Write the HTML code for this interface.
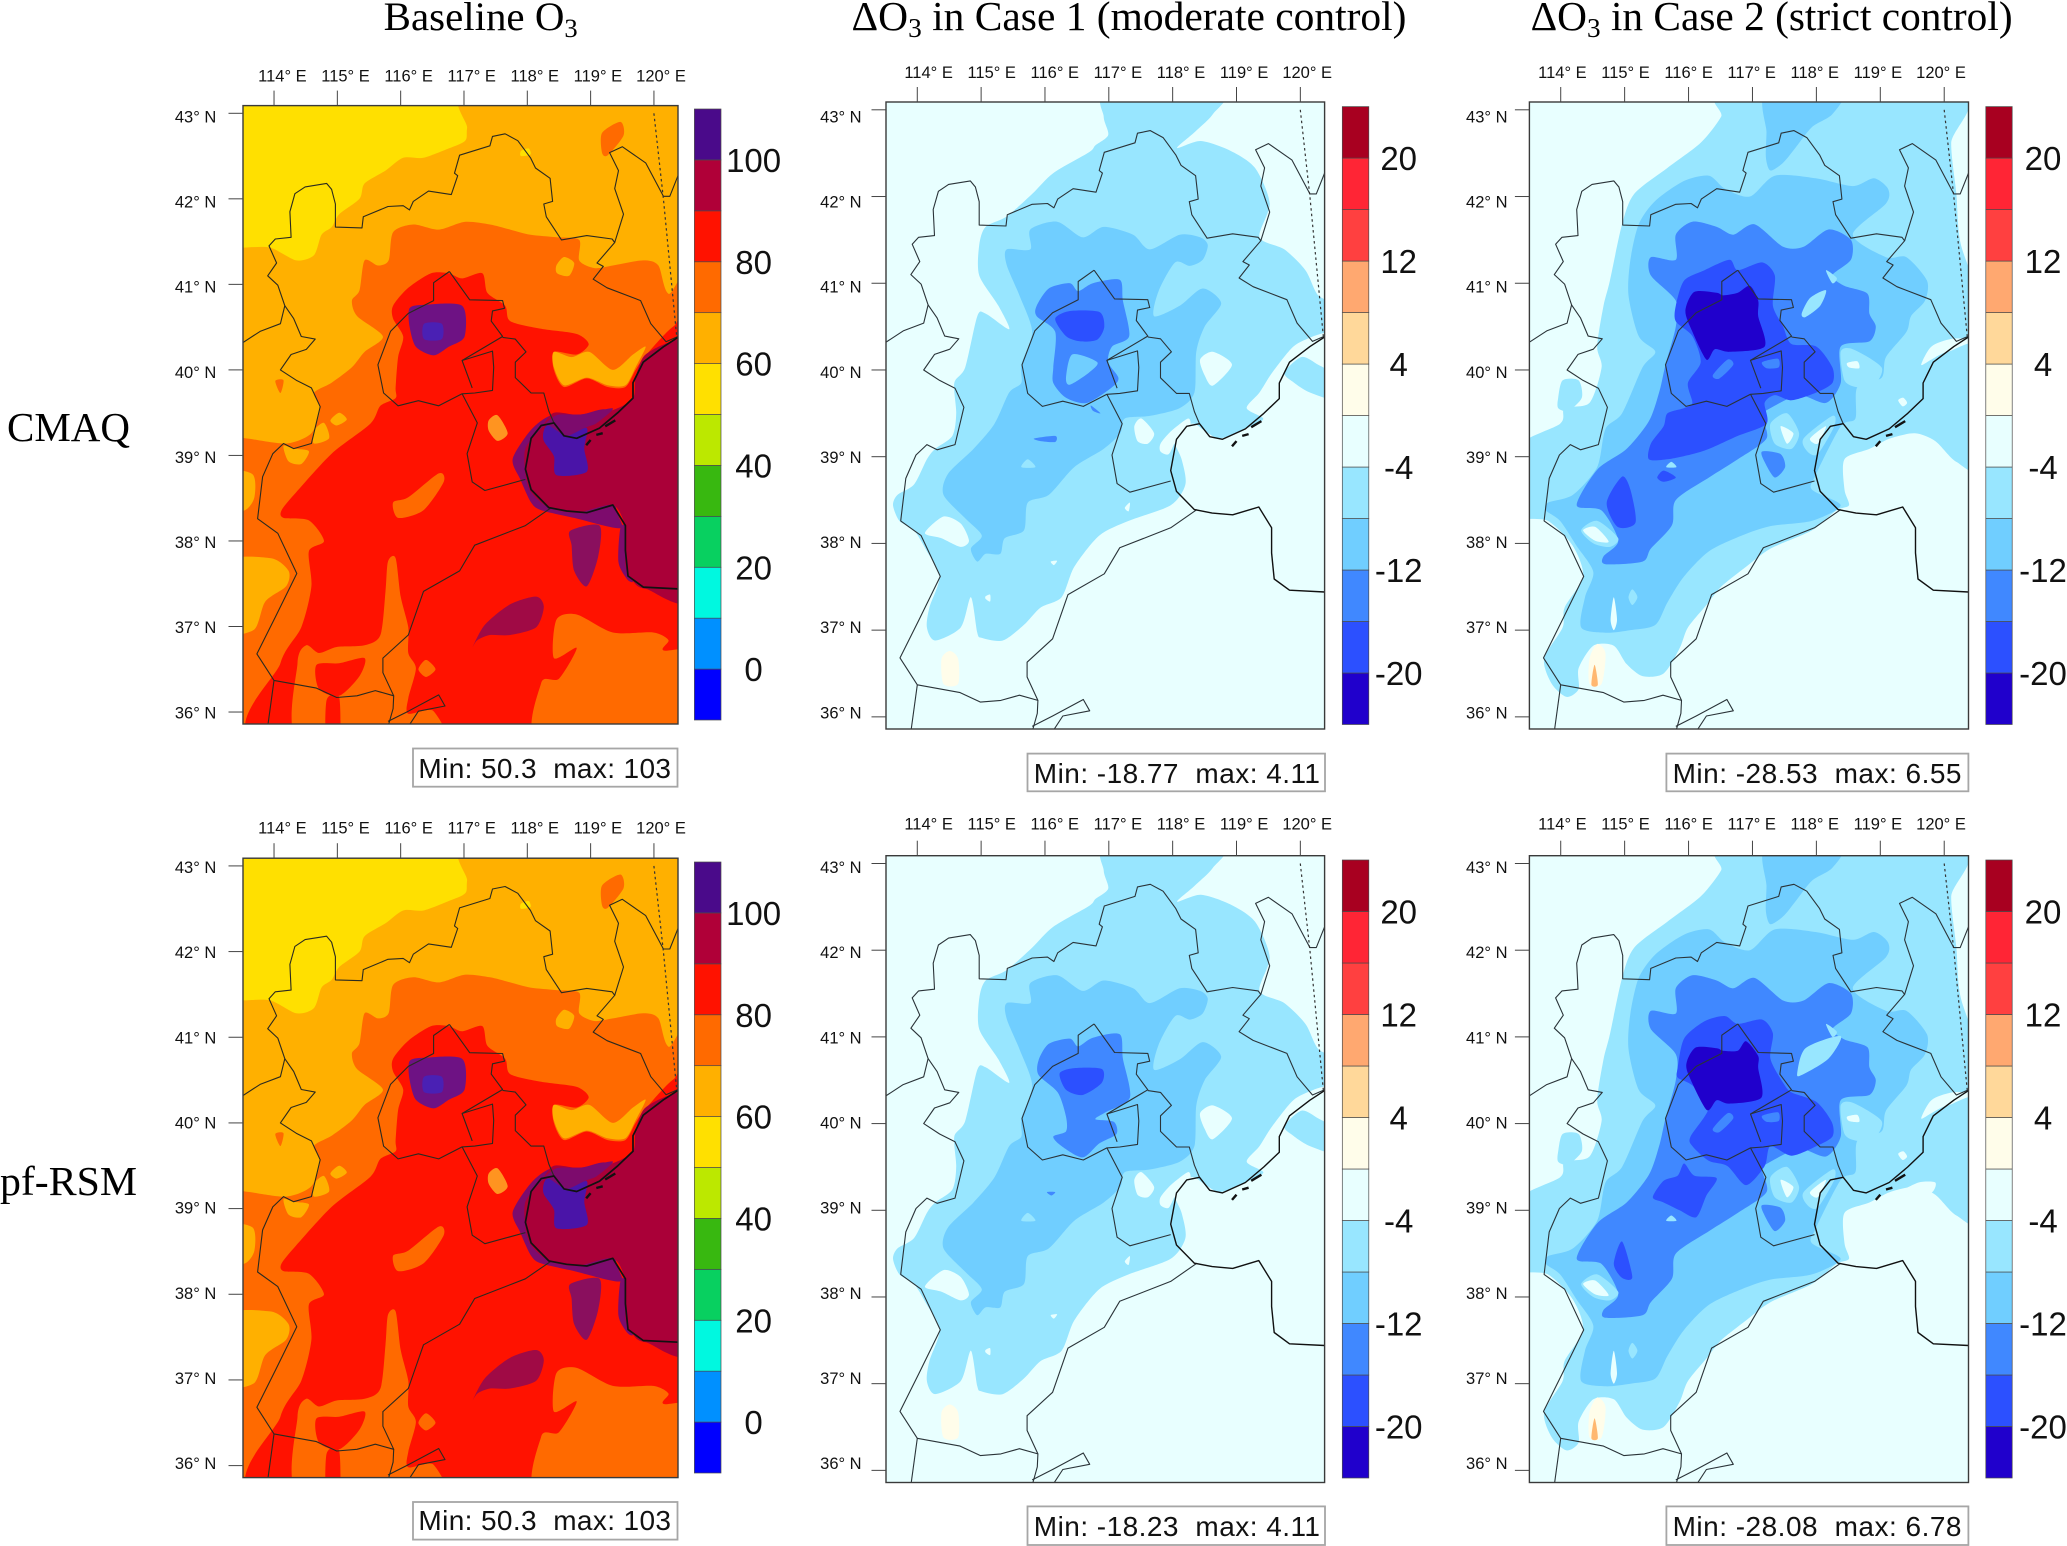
<!DOCTYPE html>
<html lang="en">
<head>
<meta charset="utf-8">
<title>Baseline O3 and control case contour maps</title>
<style>
html,body{margin:0;padding:0;background:#fff;}
svg{display:block;}
text{font-family:"Liberation Sans",sans-serif;fill:#111;}
.serif{font-family:"Liberation Serif","DejaVu Serif",serif;fill:#000;}
</style>
</head>
<body>
<svg id="figure" xmlns="http://www.w3.org/2000/svg" width="2067" height="1546" viewBox="0 0 2067 1546">
  <rect width="2067" height="1546" fill="#ffffff"/>
  <text class="serif" x="383.7" y="30" font-size="40" textLength="194" lengthAdjust="spacingAndGlyphs">Baseline O<tspan dy="7" font-size="26">3</tspan></text>
  <text class="serif" x="851.5" y="30" font-size="41" textLength="555" lengthAdjust="spacingAndGlyphs">ΔO<tspan dy="7" font-size="27">3</tspan><tspan dy="-7"> in Case 1 (moderate control)</tspan></text>
  <text class="serif" x="1530.6" y="30" font-size="41" textLength="482" lengthAdjust="spacingAndGlyphs">ΔO<tspan dy="7" font-size="27">3</tspan><tspan dy="-7"> in Case 2 (strict control)</tspan></text>
  <text class="serif" x="7" y="441" font-size="41" textLength="123" lengthAdjust="spacingAndGlyphs">CMAQ</text>
  <text class="serif" x="0" y="1195" font-size="41" textLength="137" lengthAdjust="spacingAndGlyphs">pf-RSM</text>
</svg>
<script>
/* ---------- axis values ---------- */
const lonTicks = [114,115,116,117,118,119,120];
const latTicks = [43,42,41,40,39,38,37,36];
const lonDomain = [113.51,120.38];
const latDomain = [35.86,43.09];

/* ---------- colour scale values (ascending) ---------- */
const baselineEdges = [-10,0,10,20,30,40,50,60,70,80,90,100,110];
const baselineColors = ['#0000ff','#0090ff','#00f8e0','#08d060','#38b810','#bce800','#ffe000','#ffb000','#ff6a00','#ff1200','#b00038','#4a0a8a'];
const baselineBarLabels = [0,20,40,60,80,100];
const caseEdges = [-24,-20,-16,-12,-8,-4,0,4,8,12,16,20,24];
const caseColors = ['#2000cc','#2c50ff','#4088ff','#70ceff','#98e6ff','#e8ffff','#fffdea','#ffd89a','#ffa870','#ff4040','#ff2535','#a80020'];
const caseBarLabels = [-20,-12,-4,4,12,20];

/* ---------- printed statistics ---------- */
const minValues = ['50.3','-18.77','-28.53','50.3','-18.23','-28.08'];
const maxValues = ['103','4.11','6.55','103','4.11','6.78'];

/* ---------- boundaries (lon,lat pairs) ---------- */
const borderNorth = [113.51,40.32,113.78,40.45,114.10,40.54,114.17,40.75,114.06,40.99,113.90,41.10,114.04,41.25,113.92,41.45,114.02,41.53,114.27,41.55,114.25,41.85,114.33,42.06,114.49,42.14,114.83,42.18,114.91,42.11,114.97,41.94,114.97,41.67,115.39,41.66,115.41,41.79,115.80,41.91,116.04,41.92,116.14,41.87,116.20,41.97,116.44,42.09,116.80,42.05,116.90,42.27,116.85,42.30,116.93,42.51,117.41,42.62,117.45,42.73,117.65,42.76,117.85,42.68,118.05,42.48,118.13,42.36,118.36,42.24,118.40,41.97,118.26,41.94,118.30,41.79,118.54,41.52,118.94,41.57,119.34,41.53,119.38,41.49,119.10,41.25,119.20,41.21,119.04,41.06,119.26,40.96,119.79,40.81,119.95,40.54,120.19,40.33,120.38,40.39];
const borderEastBranch = [119.38,41.49,119.52,41.82,119.38,42.12,119.44,42.33,119.30,42.54,119.50,42.61,119.87,42.42,120.15,42.03,120.25,42.03,120.38,42.27];
const borderWest = [114.17,40.75,114.31,40.60,114.43,40.39,114.65,40.36,114.51,40.24,114.27,40.18,114.10,40.00,114.35,39.88,114.59,39.79,114.73,39.57,114.59,39.14,114.31,39.08,114.15,39.14,113.98,39.02,113.82,38.75,113.74,38.26,114.06,38.09,114.36,37.62,114.02,37.11,113.73,36.68,114.00,36.37,114.67,36.28,114.99,36.17,115.31,36.19,115.60,36.25,115.89,36.19,115.72,36.46,115.72,36.63,116.12,36.90,116.36,37.41,116.93,37.65,117.17,37.95,117.97,38.18,118.38,38.39];
const borderSpurA = [114.00,36.37,113.90,35.83];
const borderSpurB = [115.89,36.19,115.88,36.04,115.80,35.83];
const borderSouth = [115.80,35.89,116.12,36.01,116.60,36.20,116.70,36.07,116.28,36.01,116.12,35.83];
const borderBeijing = [116.77,41.15,116.52,41.02,116.52,40.81,116.12,40.66,115.84,40.45,115.64,40.06,115.73,39.73,115.96,39.58,116.28,39.64,116.60,39.58,116.97,39.72,117.17,39.73,117.45,39.76,117.47,40.03,117.45,40.22,116.97,40.11,117.13,39.79];
const borderBeijingEast = [116.77,41.15,117.09,40.82,117.61,40.81,117.64,40.72,117.45,40.69,117.43,40.57,117.61,40.39,116.97,40.11];
const borderTianjinEast = [117.61,40.38,117.81,40.36,117.98,40.21,117.81,40.09,117.81,39.91,118.06,39.73,118.26,39.73,118.34,39.52,118.42,39.38];
const borderTianjinSouth = [116.97,39.72,117.21,39.38,117.05,39.02,117.13,38.69,117.33,38.59,117.97,38.72];
const coastline = [120.38,40.38,120.15,40.27,119.83,40.09,119.67,39.85,119.67,39.67,119.43,39.50,119.14,39.32,118.78,39.20,118.58,39.23,118.42,39.38,118.22,39.35,118.06,39.20,117.97,38.84,118.06,38.60,118.34,38.39,118.62,38.35,118.94,38.33,119.35,38.42,119.55,38.18,119.55,37.89,119.59,37.59,119.83,37.46,120.38,37.44];
const dottedBorder = [120.00,43.00,120.15,42.00,120.36,40.39];
const isletA = [118.93,39.12,119.00,39.18];
const isletB = [119.09,39.24,119.19,39.26];
const isletC = [119.23,39.34,119.39,39.41];

/* ---------- baseline O3 contours (lon,lat pairs) ---------- */
const baseOrange = [117.13,43.3,117.05,42.83,117.02,42.68,116.76,42.59,116.36,42.48,116.04,42.48,115.76,42.33,115.43,42.18,115.35,42.00,115.03,41.82,114.91,41.67,114.75,41.58,114.63,41.34,114.35,41.28,113.94,41.43,113.51,41.43,113.2,41.43,113.2,35.6,120.7,35.6,120.7,43.3];
const baseOrangeRed = [120.7,40.9,120.23,40.89,120.07,41.22,119.83,41.28,119.35,41.22,119.06,41.19,118.82,41.28,118.82,41.52,118.46,41.55,118.05,41.58,117.73,41.64,117.41,41.70,117.01,41.73,116.60,41.64,116.20,41.70,115.88,41.61,115.81,41.28,115.64,41.22,115.43,41.28,115.35,40.93,115.23,40.81,115.31,40.63,115.72,40.39,115.43,40.21,115.23,40.03,114.91,39.85,114.63,39.73,114.73,39.55,114.59,39.26,114.19,39.14,113.54,39.20,113.2,39.20,113.2,35.6,120.7,35.6];
const baseRed = [115.88,40.75,116.12,40.96,116.48,41.13,116.76,41.13,116.97,41.07,117.29,41.13,117.37,40.90,117.65,40.75,117.73,40.57,118.22,40.48,118.78,40.42,118.97,40.30,118.78,40.18,118.42,40.21,118.42,40.00,118.58,39.80,118.94,39.90,119.27,39.80,119.55,39.80,119.71,40.00,119.85,40.15,120.31,40.51,120.7,40.57,120.7,35.6,113.90,35.6,114.10,36.57,114.43,36.99,114.59,37.47,114.55,37.88,114.79,38.00,114.55,38.24,114.15,38.27,114.12,38.36,114.35,38.57,114.91,39.02,115.52,39.37,115.68,39.58,115.92,39.67,115.92,39.79,115.96,40.15,116.04,40.39,115.88,40.60];
const baseWestOrangeA = [113.2,37.74,113.94,37.80,114.23,37.65,114.19,37.47,113.86,37.29,113.68,36.96,113.2,36.96];
const baseWestOrangeB = [113.2,38.81,113.66,38.78,113.69,38.51,113.54,38.36,113.2,38.36];
const baseWestOrangeC = [114.15,39.11,114.31,39.08,114.55,39.05,114.43,38.90,114.23,38.93];
const baseWestOrangeD = [114.63,39.29,114.79,39.38,114.87,39.20,114.63,39.14];
const baseWestOrangeE = [114.89,39.41,115.03,39.50,115.15,39.42,114.99,39.35];
const baseNorthOrange = [118.46,41.22,118.58,41.32,118.74,41.25,118.66,41.10,118.47,41.13];
const baseCoastOrange = [118.42,40.21,118.70,40.15,118.98,40.21,119.35,40.00,119.67,40.18,119.87,40.27,119.71,40.03,119.55,39.82,119.27,39.82,118.94,39.91,118.58,39.82,118.42,40.03];
const baseSouthEast = [118.22,35.6,118.22,36.34,118.50,36.39,118.78,36.75,118.42,36.63,118.46,37.08,118.78,37.14,119.35,36.93,119.99,36.93,120.23,36.84,120.15,36.72,120.7,36.66,120.7,35.6];
const baseSpire = [114.43,35.6,114.37,36.57,114.51,36.78,114.71,36.69,114.99,36.76,115.43,36.78,115.68,36.90,115.76,37.41,115.80,37.76,115.92,37.80,116.00,37.35,116.12,36.99,116.12,36.69,116.24,36.51,116.12,36.16,116.12,35.98,116.52,36.01,116.60,35.6];
const baseRedPatchA = [114.67,36.55,115.03,36.57,115.43,36.63,115.35,36.42,115.03,36.19,114.71,36.27];
const baseRedPatchB = [114.83,36.14,115.03,36.17,115.03,35.6,114.83,35.6];
const baseDiamond = [116.28,36.50,116.40,36.61,116.55,36.50,116.40,36.41];
const baseStreak = [115.88,38.45,116.12,38.51,116.60,38.79,116.68,38.69,116.36,38.36,115.96,38.27];
const baseTianjinOrange = [117.39,39.41,117.53,39.47,117.69,39.26,117.53,39.17,117.39,39.29];
const baseTopBlob = [119.18,42.77,119.47,42.90,119.52,42.74,119.27,42.51,119.18,42.54];
const baseWestDiamond = [114.02,39.87,114.15,39.88,114.10,39.73];
const baseYellowSpot = [117.90,42.56,118.02,42.59,118.05,42.52,117.90,42.50];
const baseHalo = [117.77,38.96,118.06,39.30,118.38,39.47,118.86,39.48,119.25,39.53,119.30,39.20,119.40,38.40,119.47,38.15,118.74,38.27,118.22,38.36,118.06,38.45,117.89,38.72];
const baseHaloStrip = [119.47,38.15,119.58,38.15,119.58,37.71,119.67,37.53,119.58,37.55,119.44,37.75];
const baseSea = [120.7,40.42,120.38,40.36,120.07,40.27,119.83,40.15,119.71,39.91,119.67,39.67,119.35,39.53,118.86,39.47,118.42,39.50,118.22,39.32,117.97,39.08,117.97,38.78,118.06,38.57,118.34,38.39,118.78,38.33,119.35,38.42,119.55,38.15,119.55,37.71,119.67,37.53,119.87,37.44,120.7,37.44];
const baseSeaBand = [118.22,39.32,118.46,39.47,118.86,39.48,119.35,39.55,119.10,39.38,118.94,39.33,118.62,39.21,118.34,39.35];
const baseSeaCore = [118.26,39.29,118.34,39.35,118.62,39.23,118.94,39.32,118.90,39.08,118.94,38.81,118.46,38.77,118.42,38.99,118.26,39.17];
const baseEastIsland = [118.68,38.12,119.14,38.18,119.12,37.82,118.94,37.47,118.74,37.65,118.70,37.95];
const baseSouthBlob = [117.13,36.75,117.33,37.02,117.73,37.26,118.14,37.35,118.26,37.23,118.14,36.99,117.73,36.90,117.41,36.90,117.21,36.84];
const baseBeijingRing = [116.14,40.72,116.36,40.76,116.97,40.75,117.01,40.39,116.76,40.27,116.52,40.17,116.24,40.27,116.14,40.51];
const baseBeijingCore = [116.37,40.54,116.65,40.54,116.65,40.36,116.37,40.36];

/* ---------- case 1 contours ---------- */
const c1Light = [116.99,43.2,118.76,43.2,118.63,42.95,118.34,42.74,118.07,42.56,118.44,42.64,118.90,42.53,119.29,42.33,119.52,41.92,119.36,41.53,119.75,41.39,120.08,41.15,120.28,40.86,120.6,40.74,120.6,40.50,120.21,40.39,119.89,40.27,119.56,39.97,119.36,39.74,119.16,39.56,119.42,39.44,119.23,39.35,119.03,39.29,118.73,39.21,118.50,39.30,118.34,39.38,118.17,39.35,118.01,39.21,118.14,38.97,118.20,38.68,117.97,38.44,117.31,38.26,116.85,38.09,116.46,37.73,116.26,37.38,115.93,37.26,115.67,37.06,115.34,36.88,115.01,36.91,114.94,36.97,114.84,37.38,114.68,37.03,114.28,36.88,114.15,37.03,114.19,37.26,114.35,37.62,114.15,37.91,113.95,38.15,113.72,38.26,113.62,38.44,113.69,38.56,113.95,38.68,114.15,38.97,114.28,39.09,114.55,39.24,114.61,39.50,114.58,39.85,114.75,40.03,114.94,40.62,115.07,40.65,115.44,40.47,115.27,40.74,114.97,41.09,114.97,41.44,115.07,41.65,115.40,41.77,115.80,42.03,116.13,42.27,116.69,42.51,116.79,42.59,116.99,42.71,116.92,42.92];
const c1SeaBlob = [119.75,39.97,120.02,40.15,120.28,40.06,120.6,39.91,120.6,39.65,120.15,39.74,119.89,39.86];
const c1GapA = [118.43,40.12,118.63,40.21,118.93,40.06,118.63,39.82,118.50,39.94];
const c1GapB = [117.40,39.35,117.51,39.44,117.71,39.27,117.61,39.15,117.45,39.18];
const c1GapC = [117.81,39.15,117.97,39.29,118.24,39.44,118.27,39.35,118.07,39.21,117.94,39.03,117.81,39.06];
const c1GapD = [114.12,38.12,114.41,38.31,114.68,38.23,114.81,38.03,114.68,37.96,114.38,38.06];
const c1GapE = [117.25,38.41,117.33,38.47,117.31,38.37];
const c1GapF = [116.09,37.79,116.19,37.80,116.14,37.75];
const c1GapG = [115.07,37.39,115.14,37.41,115.14,37.33,115.07,37.36];
const c1Cream = [114.38,36.67,114.51,36.76,114.64,36.67,114.64,36.38,114.41,36.38];
const c1Mid = [115.77,41.62,116.19,41.71,116.59,41.53,116.92,41.65,117.38,41.56,117.64,41.39,118.11,41.56,118.43,41.53,118.55,41.44,118.47,41.27,118.27,41.20,118.04,41.24,117.78,40.91,117.71,40.62,118.11,40.74,118.47,40.94,118.76,40.77,118.50,40.50,118.37,40.21,118.34,39.74,118.11,39.56,117.64,39.47,117.25,39.44,117.18,39.27,116.92,39.09,116.46,38.88,116.06,38.56,115.73,38.47,115.67,38.15,115.37,38.06,115.30,37.88,115.07,37.88,114.94,37.79,114.84,37.94,115.01,38.09,114.75,38.29,114.41,38.56,114.48,38.80,114.88,39.09,115.21,39.38,115.44,39.74,115.63,39.85,115.63,40.06,115.80,40.44,115.60,40.86,115.40,41.21,115.40,41.39,115.77,41.39];
const c1MidGap = [115.63,38.88,115.73,38.97,115.85,38.88];
const c1Strong = [115.87,40.74,116.06,40.94,116.39,41.00,116.52,40.91,116.75,41.00,117.17,41.04,117.22,40.80,117.32,40.39,117.05,40.27,116.99,40.09,117.15,39.91,117.05,39.80,116.66,39.62,116.33,39.68,116.13,39.85,116.13,40.03,116.16,40.44,115.87,40.62];
const c1Hole = [116.33,39.91,116.43,40.18,116.82,40.09,116.69,39.97,116.39,39.83];
const c1Deep = [116.16,40.59,116.39,40.68,116.85,40.67,116.93,40.50,116.82,40.35,116.56,40.33,116.33,40.39];
const c1SpotA = [115.83,39.21,116.16,39.24,116.16,39.17,115.93,39.18];
const c1SpotB = [116.72,39.59,116.87,39.50,116.75,39.53];
const c1RsmStrong = [115.90,40.73,116.06,40.92,116.39,40.98,116.52,40.89,116.75,40.99,117.17,41.03,117.22,40.75,117.33,40.30,116.95,40.13,116.79,40.05,117.08,40.02,117.12,39.88,116.85,39.77,116.59,39.61,116.26,39.74,116.13,39.85,116.33,39.91,116.33,40.08,116.20,40.36,115.90,40.56];
const c1RsmDeep = [116.23,40.58,116.46,40.64,116.89,40.63,116.89,40.47,116.59,40.33,116.33,40.39];
const c1RsmSpot = [116.03,39.21,116.16,39.21,116.10,39.17];

/* ---------- case 2 contours ---------- */
const c2Light = [116.64,43.2,120.22,43.2,120.11,42.62,120.19,42.03,120.26,41.45,120.6,40.74,120.6,40.39,120.12,40.36,119.80,40.27,119.64,40.06,119.80,40.12,120.06,40.21,120.6,40.24,120.6,38.88,120.19,38.94,119.86,39.18,119.54,39.27,119.15,39.21,118.83,39.09,118.44,38.97,118.44,38.62,118.51,38.44,118.31,38.38,117.93,38.15,117.28,37.94,116.90,37.73,116.51,37.50,116.28,37.29,115.99,37.03,115.86,36.79,115.61,36.50,115.28,36.47,115.03,36.61,114.83,36.82,114.51,36.82,114.28,36.56,114.28,36.32,114.09,36.23,113.86,36.38,113.74,36.67,114.03,37.03,114.06,37.26,114.35,37.62,114.19,37.97,113.80,38.26,113.3,38.35,113.3,39.09,113.99,39.38,114.06,39.56,114.45,39.62,114.64,40.03,114.57,40.27,114.67,40.74,114.77,41.03,114.96,41.68,115.15,42.03,115.67,42.33,116.19,42.62,116.51,42.92];
const c2Cream = [114.45,36.67,114.57,36.84,114.70,36.73,114.64,36.38,114.45,36.38];
const c2Droplet = [114.48,36.37,114.53,36.60,114.58,36.37];
const c2TopBlob = [117.22,43.2,118.38,43.2,118.25,42.95,117.93,42.80,117.67,42.56,117.48,42.39,117.28,42.30,117.21,42.45,117.22,42.74];
const c2Mid = [115.22,41.68,115.48,41.95,115.93,42.18,116.32,42.24,116.57,42.09,116.96,42.00,117.35,42.24,117.99,42.21,118.57,42.12,118.90,42.21,119.12,42.09,119.09,41.92,118.57,41.56,119.09,41.30,119.41,41.30,119.73,41.03,119.70,40.80,119.48,40.62,119.41,40.44,119.09,40.15,119.02,39.91,118.64,39.80,118.61,39.44,118.38,39.35,117.99,38.79,117.93,38.62,118.38,38.44,117.93,38.26,117.28,38.20,116.83,38.09,116.32,37.91,115.93,37.62,115.67,37.32,115.48,37.06,115.09,37.00,114.70,36.97,114.32,37.03,114.38,37.38,114.51,37.67,114.25,37.97,113.99,38.26,113.77,38.38,113.80,38.47,114.19,38.56,114.57,38.88,114.70,39.32,114.96,39.50,115.28,40.03,115.48,40.21,115.22,40.39,115.06,40.86,115.09,41.27];
const c2WestBlob = [113.96,39.68,114.03,39.88,114.28,39.88,114.33,39.68,114.12,39.53,113.96,39.56];
const c2Strong = [115.80,41.56,116.06,41.71,116.44,41.65,116.70,41.56,117.03,41.68,117.48,41.42,117.80,41.42,118.19,41.62,118.54,41.50,118.54,41.27,118.25,41.09,118.44,40.97,118.80,40.88,118.83,40.65,118.93,40.50,118.83,40.33,118.38,40.27,118.38,39.85,118.15,39.62,117.73,39.71,117.28,39.56,117.15,39.47,117.22,39.21,116.77,38.97,116.32,38.76,115.80,38.50,115.74,38.21,115.41,37.94,115.28,37.79,114.70,37.76,114.67,37.85,114.90,38.03,114.64,38.38,114.25,38.44,114.57,38.85,115.03,39.09,115.38,39.41,115.54,39.74,115.64,40.06,115.80,40.50,115.80,40.80,115.41,41.09,115.41,41.30,115.80,41.27];
const c2Finger = [117.77,40.65,117.90,40.83,118.15,40.92,118.06,40.74,117.83,40.61];
const c2FingerTip = [118.15,41.15,118.32,41.06,118.25,41.00];
const c2RsmFinger = [117.70,40.58,117.83,40.87,118.38,41.01,118.19,40.75,117.77,40.56];
const c2TianjinSpot = [117.15,39.06,117.44,39.03,117.51,38.88,117.35,38.76,117.19,38.94];
const c2Deep = [115.80,40.74,115.93,41.03,116.25,41.15,116.64,41.27,116.77,41.15,117.15,41.24,117.35,41.09,117.32,40.74,117.48,40.50,117.61,40.30,118.00,40.27,118.25,40.03,118.25,39.85,118.00,39.74,117.61,39.65,117.35,39.71,117.19,39.62,117.22,39.38,116.77,39.24,116.32,39.09,116.06,39.03,115.67,38.97,115.38,38.97,115.41,39.15,115.61,39.35,115.67,39.50,115.93,39.56,116.06,39.62,115.99,39.85,116.19,40.09,116.06,40.39,115.80,40.56];
const c2HoleA = [116.38,39.94,116.61,40.12,116.70,40.06,116.48,39.90];
const c2HoleB = [117.15,40.09,117.40,40.13,117.41,40.03,117.22,40.02];
const c2WestDeep = [114.72,38.47,114.96,38.77,115.09,38.62,115.17,38.24,114.89,38.19];
const c2SmallDeep = [115.51,38.76,115.61,38.84,115.80,38.76,115.61,38.71];
const c2SmallGap = [115.65,38.88,115.73,38.94,115.81,38.88];
const c2Core = [115.95,40.68,116.09,40.90,116.44,40.89,116.54,40.86,116.77,40.89,116.96,40.97,117.09,40.80,117.09,40.62,117.19,40.27,116.64,40.21,116.41,40.24,116.28,40.12,116.06,40.44];
const c2IslandA = [117.28,39.38,117.54,39.50,117.73,39.27,117.61,39.09,117.35,39.15];
const c2IslandAWhite = [117.44,39.35,117.64,39.27,117.54,39.15];
const c2IslandB = [117.80,39.21,118.25,39.47,118.28,39.35,118.02,39.03,117.86,39.06];
const c2IslandBWhite = [117.90,39.21,118.15,39.35,118.02,39.15];
const c2IslandC = [118.38,40.21,118.57,40.24,119.02,40.03,118.90,39.82,118.64,39.80,118.44,39.88];
const c2IslandCWhite = [118.48,40.08,118.64,40.10,118.67,40.02,118.51,40.03];
const c2IslandD = [114.32,38.15,114.57,38.26,114.90,38.06,114.77,37.96,114.51,38.00];
const c2IslandDWhite = [114.35,38.15,114.54,38.19,114.75,38.02,114.54,38.03];
const c2IslandE = [115.06,37.38,115.12,37.47,115.20,37.38,115.12,37.29];
const c2IslandF = [114.78,37.12,114.83,37.38,114.88,37.12,114.83,37.00];
const c2IslandG = [119.28,39.65,119.36,39.68,119.42,39.62,119.35,39.58];
const c2RsmDeep = [115.83,40.64,115.93,40.98,116.25,41.18,116.57,41.24,116.77,41.15,117.15,41.20,117.32,41.04,117.28,40.75,117.48,40.47,117.61,40.36,118.00,40.25,118.24,40.02,118.25,39.85,118.00,39.74,117.61,39.63,117.28,39.74,117.19,39.51,116.90,39.29,116.61,39.51,116.32,39.57,116.06,39.74,116.03,39.85,116.32,40.19,116.06,40.44,115.83,40.53];
const c2RsmSouth = [115.44,39.15,115.61,39.34,115.83,39.40,115.93,39.54,116.09,39.40,116.44,39.37,116.28,39.17,116.12,38.92,115.86,39.00,115.61,39.09];
const c2RsmWest = [114.83,38.38,114.96,38.64,115.12,38.23,114.96,38.22];
const c2RsmCore = [115.98,40.73,116.12,40.88,116.44,40.87,116.54,40.84,116.77,40.84,116.90,40.95,117.09,40.78,117.09,40.64,117.14,40.30,116.64,40.23,116.44,40.27,116.28,40.16,115.99,40.58];
const c2RsmSeaGap = [119.30,39.20,119.60,39.32,119.86,39.32,119.80,39.20,119.47,39.13];

/* ---------- draw order: [value, ring, optional tint, name] ---------- */
const baselineLayers = [
 [65,baseOrange,null,'contour-60-70'],[75,baseOrangeRed,null,'contour-70-80'],
 [65,baseWestOrangeA,null,'patch-60-70'],[65,baseWestOrangeB,null,'patch-60-70'],[65,baseWestOrangeC,null,'patch-60-70'],[65,baseWestOrangeD,null,'patch-60-70'],[65,baseWestOrangeE,null,'patch-60-70'],[65,baseNorthOrange,null,'patch-60-70'],
 [75,baseTopBlob,null,'patch-70-80'],[75,baseWestDiamond,null,'patch-70-80'],[55,baseYellowSpot,null,'patch-50-60'],
 [85,baseRed,null,'contour-80-90'],[65,baseCoastOrange,null,'patch-60-70'],[75,baseSouthEast,null,'patch-70-80'],[75,baseSpire,null,'patch-70-80'],
 [85,baseRedPatchA,null,'patch-80-90'],[85,baseRedPatchB,null,'patch-80-90'],[75,baseDiamond,null,'patch-70-80'],[75,baseStreak,null,'patch-70-80'],[65,baseTianjinOrange,'#ff9420','patch-60-70'],
 [95,baseHalo,'#7d0b6d','sea-halo'],[95,baseHaloStrip,'#7d0b6d','sea-halo'],[95,baseSea,'#aa0038','contour-90-100'],[95,baseSeaBand,'#7d0b6d','sea-band'],[105,baseSeaCore,'#4a14a8','sea-core'],
 [95,baseEastIsland,'#8a0f5e','patch-90-100'],[95,baseSouthBlob,'#a00a45','patch-90-100'],[95,baseBeijingRing,'#6e1284','beijing-ring'],[105,baseBeijingCore,'#4a20b4','beijing-core']
];
const case1Top = [
 [-6,c1Light,null,'contour-minus-4'],[-6,c1SeaBlob,null,'patch-minus-4'],[-2,c1GapA,null,'gap'],[-2,c1GapB,null,'gap'],[-2,c1GapC,null,'gap'],[-2,c1GapD,null,'gap'],[-2,c1GapE,null,'gap'],[-2,c1GapF,null,'gap'],[-2,c1GapG,null,'gap'],[2,c1Cream,null,'positive-patch'],
 [-10,c1Mid,null,'contour-minus-8'],[-6,c1MidGap,null,'gap'],[-14,c1Strong,null,'contour-minus-12'],[-10,c1Hole,null,'hole'],[-18,c1Deep,null,'contour-minus-16'],[-14,c1SpotA,null,'spot'],[-14,c1SpotB,null,'spot']
];
const case1Bottom = [
 [-6,c1Light,null,'contour-minus-4'],[-6,c1SeaBlob,null,'patch-minus-4'],[-2,c1GapA,null,'gap'],[-2,c1GapB,null,'gap'],[-2,c1GapC,null,'gap'],[-2,c1GapD,null,'gap'],[-2,c1GapE,null,'gap'],[-2,c1GapF,null,'gap'],[-2,c1GapG,null,'gap'],[2,c1Cream,null,'positive-patch'],
 [-10,c1Mid,null,'contour-minus-8'],[-6,c1MidGap,null,'gap'],[-14,c1RsmStrong,null,'contour-minus-12'],[-18,c1RsmDeep,null,'contour-minus-16'],[-14,c1RsmSpot,null,'spot']
];
const case2Shared = [
 [-6,c2Light,null,'contour-minus-4'],[2,c2Cream,null,'positive-patch'],[6,c2Droplet,'#ffb870','positive-core'],
 [-10,c2TopBlob,null,'patch-minus-8'],[-10,c2Mid,null,'contour-minus-8'],[-6,c2WestBlob,null,'patch-minus-4'],
 [-14,c2Strong,null,'contour-minus-12'],[-6,c2FingerTip,null,'gap'],[-14,c2TianjinSpot,null,'spot']
];
const case2Islands = [
 [-6,c2IslandA,null,'gap'],[-2,c2IslandAWhite,null,'gap-core'],[-6,c2IslandB,null,'gap'],[-2,c2IslandBWhite,null,'gap-core'],[-6,c2IslandC,null,'gap'],[-2,c2IslandCWhite,null,'gap-core'],[-6,c2IslandD,null,'gap'],[-2,c2IslandDWhite,null,'gap-core'],[-6,c2IslandE,null,'gap'],[-2,c2IslandF,null,'gap-core'],[-2,c2IslandG,null,'gap-core']
];
const case2Top = case2Shared.concat([
 [-6,c2Finger,null,'gap'],[-18,c2Deep,null,'contour-minus-16'],[-14,c2HoleA,null,'hole'],[-14,c2HoleB,null,'hole'],[-18,c2WestDeep,null,'spot'],[-18,c2SmallDeep,null,'spot'],[-6,c2SmallGap,null,'gap'],[-22,c2Core,null,'contour-minus-20']
],case2Islands);
const case2Bottom = case2Shared.concat([
 [-6,c2RsmFinger,null,'gap'],[-18,c2RsmDeep,null,'contour-minus-16'],[-18,c2RsmSouth,null,'patch-minus-16'],[-14,c2HoleA,null,'hole'],[-14,c2HoleB,null,'hole'],[-18,c2RsmWest,null,'spot'],[-6,c2SmallGap,null,'gap'],[-22,c2RsmCore,null,'contour-minus-20'],[-2,c2RsmSeaGap,null,'gap']
],case2Islands);

/* ---------- panel layout ---------- */
const panels = [
 {id:'baseline-cmaq',L:243,R:678,T:105.6,B:724,bx:694.4,bw:26.6,bt:109,bb:720,lx:282.4,ly:75.5,yr:216.3,y0:116.3,blx:753.6,box:[413,748.5,264.5,38.2],tx:[418.4,671],base:778,layers:baselineLayers,bg:55,kind:0,stat:0},
 {id:'case-1-cmaq',L:886,R:1324.6,T:102,B:729,bx:1342.3,bw:26.5,bt:106.6,bb:724.5,lx:928.6,ly:72,yr:861.6,y0:116.3,blx:1398.7,box:[1027.5,753.6,297.5,37.7],tx:[1033.8,1320],base:783,layers:case1Top,bg:-2,kind:1,stat:1},
 {id:'case-2-cmaq',L:1529.4,R:1968.5,T:102,B:729,bx:1985.8,bw:26.4,bt:106.6,bb:724.5,lx:1562.4,ly:72,yr:1507.5,y0:116.3,blx:2043,box:[1666.4,753.6,302,37.7],tx:[1672.6,1961.5],base:783,layers:case2Top,bg:-2,kind:1,stat:2},
 {id:'baseline-pf-rsm',L:243,R:678,T:858.2,B:1477.6,bx:694.4,bw:26.6,bt:862,bb:1473,lx:282.4,ly:827.4,yr:216.3,y0:867,blx:753.6,box:[413,1502,264.5,37.6],tx:[418.4,671],base:1530,layers:baselineLayers,bg:55,kind:0,stat:3},
 {id:'case-1-pf-rsm',L:886,R:1324.6,T:855.7,B:1482.5,bx:1342.3,bw:26.5,bt:860,bb:1478,lx:928.6,ly:823.5,yr:861.6,y0:867,blx:1398.7,box:[1027.5,1506.4,297.5,38.6],tx:[1033.8,1320],base:1536,layers:case1Bottom,bg:-2,kind:1,stat:4},
 {id:'case-2-pf-rsm',L:1529.4,R:1968.5,T:855.7,B:1482.5,bx:1985.8,bw:26.4,bt:860,bb:1478,lx:1562.4,ly:823.5,yr:1507.5,y0:867,blx:2043,box:[1666.4,1506.4,302,38.6],tx:[1672.6,1961.5],base:1536,layers:case2Bottom,bg:-2,kind:1,stat:5}
];

const NS = 'http://www.w3.org/2000/svg';
const root = document.getElementById('figure');

function make(tag, parent, props){
  const el = document.createElementNS(NS, tag);
  for (const k in props) el.setAttribute(k, props[k]);
  parent.appendChild(el);
  return el;
}
function smoothClosed(pts){
  const n = pts.length, k = 0.8;
  let d = 'M' + pts[0][0].toFixed(1) + ' ' + pts[0][1].toFixed(1);
  for (let i = 0; i < n; i++){
    const p0 = pts[(i-1+n)%n], p1 = pts[i], p2 = pts[(i+1)%n], p3 = pts[(i+2)%n];
    const c1x = p1[0] + (p2[0]-p0[0])/6*k, c1y = p1[1] + (p2[1]-p0[1])/6*k;
    const c2x = p2[0] - (p3[0]-p1[0])/6*k, c2y = p2[1] - (p3[1]-p1[1])/6*k;
    d += 'C' + c1x.toFixed(1) + ' ' + c1y.toFixed(1) + ' ' + c2x.toFixed(1) + ' ' + c2y.toFixed(1) + ' ' + p2[0].toFixed(1) + ' ' + p2[1].toFixed(1);
  }
  return d + 'Z';
}
function bandColor(edges, colors, v){
  for (let i = 0; i < colors.length; i++) if (v >= edges[i] && v < edges[i+1]) return colors[i];
  return colors[colors.length-1];
}

panels.forEach(function(p, idx){
  const edges = p.kind === 0 ? baselineEdges : caseEdges;
  const colors = p.kind === 0 ? baselineColors : caseColors;
  const barLabels = p.kind === 0 ? baselineBarLabels : caseBarLabels;
  const xScale = function(lon){ return p.L + (lon - lonDomain[0]) / (lonDomain[1] - lonDomain[0]) * (p.R - p.L); };
  const yScale = function(lat){ return p.B - (lat - latDomain[0]) / (latDomain[1] - latDomain[0]) * (p.B - p.T); };
  const project = function(flat){
    const out = [];
    for (let i = 0; i < flat.length; i += 2) out.push([xScale(flat[i]), yScale(flat[i+1])]);
    return out;
  };
  const toPoints = function(flat){
    return project(flat).map(function(q){return q[0].toFixed(1)+','+q[1].toFixed(1);}).join(' ');
  };

  const g = make('g', root, {});
  
  

  const clip = make('clipPath', g, {id:'clip-' + idx});
  make('rect', clip, {x:p.L, y:p.T, width:p.R-p.L, height:p.B-p.T});

  const map = make('g', g, {'clip-path':'url(#clip-' + idx + ')'});
  
  

  const bg = make('rect', map, {x:p.L, y:p.T, width:p.R-p.L, height:p.B-p.T, fill:bandColor(edges, colors, p.bg)});
  
  

  p.layers.forEach(function(layer){
    const el = make('path', map, {d:smoothClosed(project(layer[1])), fill:layer[2] || bandColor(edges, colors, layer[0])});
    
    
  });

  const lineColor = p.kind === 0 ? '#2a2a20' : '#2a3338';
  [borderNorth,borderEastBranch,borderWest,borderSpurA,borderSpurB,borderSouth,borderBeijing,borderBeijingEast,borderTianjinEast,borderTianjinSouth].forEach(function(line){
    const el = make('polyline', map, {points:toPoints(line), fill:'none', stroke:lineColor, 'stroke-width':1.1, 'stroke-linejoin':'round'});
    
    
  });
  const coast = make('polyline', map, {points:toPoints(coastline), fill:'none', stroke:'#111', 'stroke-width':p.kind === 0 ? 1.7 : 1.4, 'stroke-linejoin':'round'});
  
  
  const dotted = make('polyline', map, {points:toPoints(dottedBorder), fill:'none', stroke:'#333', 'stroke-width':1.2, 'stroke-dasharray':'2.5 3'});
  
  
  [isletA,isletB,isletC].forEach(function(line){
    const el = make('polyline', map, {points:toPoints(line), fill:'none', stroke:'#111', 'stroke-width':2.4});
    
    
  });

  const frame = make('rect', g, {x:p.L, y:p.T, width:p.R-p.L, height:p.B-p.T, fill:'none', stroke:'#3a3a3a', 'stroke-width':1.4});
  
  

  lonTicks.forEach(function(lon){
    const tick = make('line', g, {x1:xScale(lon), x2:xScale(lon), y1:p.T-15, y2:p.T, stroke:'#444', 'stroke-width':1});
    
    
    const label = make('text', g, {x:p.lx + (lon-114)*63.1, y:p.ly+6, 'font-size':16.5, 'text-anchor':'middle', style:'white-space:pre'});
    label.textContent = lon + '° E';
    
    
  });
  latTicks.forEach(function(lat){
    const tick = make('line', g, {x1:p.L-14.5, x2:p.L, y1:yScale(lat), y2:yScale(lat), stroke:'#444', 'stroke-width':1});
    
    
    const label = make('text', g, {x:p.yr, y:p.y0 + (43-lat)*85.15 + 6, 'font-size':16.5, 'text-anchor':'end'});
    label.textContent = lat + '° N';
    
    
  });

  const bar = make('g', g, {});
  
  
  const barY = function(v){ return p.bb - (v - edges[0]) / (edges[edges.length-1] - edges[0]) * (p.bb - p.bt); };
  colors.forEach(function(c, i){
    const seg = make('rect', bar, {x:p.bx, y:barY(edges[i+1]), width:p.bw, height:barY(edges[i]) - barY(edges[i+1]), fill:c, stroke:'#4a4a4a', 'stroke-width':0.7});
    
    
  });
  barLabels.forEach(function(v){
    const t = make('text', bar, {x:p.blx, y:barY(v)+12, 'font-size':33, 'text-anchor':'middle'});
    t.textContent = String(v);
    
    
  });

  const box = make('rect', g, {x:p.box[0], y:p.box[1], width:p.box[2], height:p.box[3], fill:'#fff', stroke:'#a6a6a6', 'stroke-width':1.8});
  
  
  const stat = make('text', g, {x:p.tx[0], y:p.base, 'font-size':28, textLength:p.tx[1]-p.tx[0], lengthAdjust:'spacing', style:'white-space:pre'});
  stat.textContent = 'Min: ' + minValues[p.stat] + '  max: ' + maxValues[p.stat];
  
  
});
</script>
</body>
</html>
